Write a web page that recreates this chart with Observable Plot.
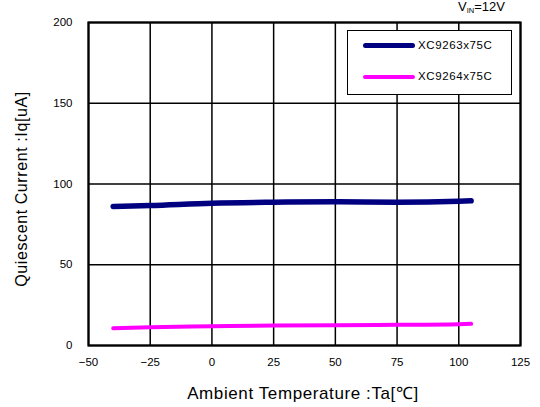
<!DOCTYPE html>
<html><head><meta charset="utf-8">
<script src="https://cdn.jsdelivr.net/npm/d3@7"></script>
<script src="https://cdn.jsdelivr.net/npm/@observablehq/plot@0.6"></script>
<style>
body{margin:0;background:#fff;font-family:"Liberation Sans",Arial,sans-serif;}
#wrap{position:relative;width:540px;height:407px;}
#legend{position:absolute;left:347px;top:30px;width:165px;height:65px;border:1.5px solid #000;background:#fff;box-sizing:border-box;}
.li{position:absolute;left:15px;height:0;width:52px;}
.lt{position:absolute;left:70px;font-size:11.5px;letter-spacing:0.6px;}
#vin{position:absolute;left:458px;top:-1px;font-size:13px;}
</style></head><body>
<div id="wrap"><div id="chart"></div>
<div id="legend"></div>
<div id="vin">V<sub style="font-size:7.5px;vertical-align:-2px">IN</sub>=12V</div>
</div>
<script>
const temps = [-40, -25, 0, 25, 50, 75, 100, 105];
const iqA = [86.1, 86.7, 88.1, 88.7, 89.0, 88.7, 89.3, 89.6];
const iqB = [10.7, 11.3, 11.9, 12.4, 12.6, 12.8, 13.2, 13.4];
const seriesNames = ["XC9263x75C", "XC9264x75C"];
const seriesColors = ["#000080", "#ff00ff"];
const seriesWidths = [5.5, 4];
const xTicks = [-50, -25, 0, 25, 50, 75, 100, 125];
const yTicks = [0, 50, 100, 150, 200];

const data = [];
temps.forEach((t, i) => {
  data.push({t, v: iqA[i], s: seriesNames[0]});
  data.push({t, v: iqB[i], s: seriesNames[1]});
});

const fmt = d => d < 0 ? "\u2212" + Math.abs(d) : String(d);
const chart = Plot.plot({
  width: 540, height: 407,
  marginLeft: 88, marginRight: 20, marginTop: 22, marginBottom: 62,
  style: {fontFamily: '"Liberation Sans", Arial, sans-serif', fontSize: "11.5px", color: "#000", background: "#fff"},
  x: {domain: [-50, 125], label: null},
  y: {domain: [0, 200], label: null},
  marks: [
    Plot.gridX(xTicks, {stroke: "#000", strokeOpacity: 1, strokeWidth: 1.5}),
    Plot.gridY(yTicks, {stroke: "#000", strokeOpacity: 1, strokeWidth: 1.5}),
    Plot.frame({stroke: "#000", strokeWidth: 2.2}),
    Plot.axisX({ticks: xTicks, tickSize: 0, tickPadding: 12, label: null, tickFormat: fmt}),
    Plot.axisY({ticks: yTicks, tickSize: 0, tickPadding: 16, label: null}),
    ...seriesNames.map((name, k) => Plot.line(data.filter(d => d.s === name), {
      x: "t", y: "v", stroke: seriesColors[k], strokeWidth: seriesWidths[k], curve: "monotone-x"
    }))
  ]
});
document.getElementById("chart").appendChild(chart);

// axis titles
const svg = d3.select(chart);
svg.append("text").attr("x", 303).attr("y", 399).attr("text-anchor", "middle")
  .style("font-size", "17px").style("letter-spacing", "0.6px")
  .style("font-family", '"Liberation Sans", Arial, sans-serif')
  .text("Ambient Temperature :Ta[\u2103]");
svg.append("text").attr("transform", "translate(27,189) rotate(-90)").attr("text-anchor", "middle")
  .style("font-size", "16px").style("letter-spacing", "0.6px")
  .style("font-family", '"Liberation Sans", Arial, sans-serif')
  .text("Quiescent Current :Iq[uA]");

// legend
const lg = document.getElementById("legend");
seriesNames.forEach((name, k) => {
  const top = k === 0 ? 15 : 46;
  const l = document.createElement("div");
  l.className = "li";
  l.style.top = (top - seriesWidths[k] / 2) + "px";
  l.style.borderTop = seriesWidths[k] + "px solid " + seriesColors[k];
  l.style.borderRadius = "3px";
  lg.appendChild(l);
  const t = document.createElement("div");
  t.className = "lt";
  t.style.top = (top - 7) + "px";
  t.textContent = name;
  lg.appendChild(t);
});
</script>
</body></html>
